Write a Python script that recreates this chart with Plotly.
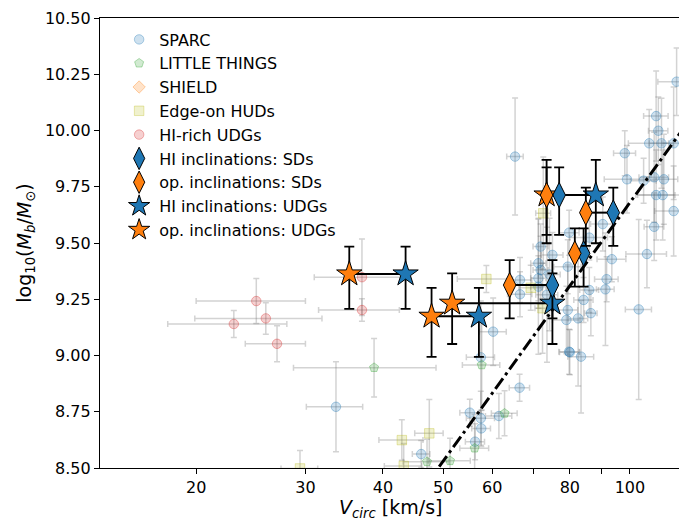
import numpy as np
import plotly.graph_objects as go

# ---------------- data ----------------
# SPARC
sparc_v = [33.6, 46.1, 55.2, 57.5, 57.6, 56.3, 57.5, 61.5, 66.4, 80.0, 83.4, 60.2,
           90.4, 109.4, 117.6, 106.5, 93.5, 103.3, 91.7, 91.3, 79.8, 86.0, 79.4, 84.2,
           86.0, 86.5, 82.5, 79.0, 79.8, 118.9, 110.2, 111.1, 107.4, 112.4, 98.1, 117.6,
           98.9, 105.2, 109.4, 113.4, 110.2, 112.9, 71.8, 75.0, 71.2, 71.8, 71.2, 66.5,
           66.5, 71.2, 79.4, 65.3, 73.5, 74.2]
sparc_m = [8.772, 8.562, 8.746, 8.721, 8.676, 8.617, 8.992, 8.731, 8.857, 9.014, 8.995, 9.106,
           9.584, 9.572, 9.642, 9.451, 9.428, 9.205, 9.339, 9.294, 9.546, 9.524, 9.395, 9.247,
           9.291, 9.188, 9.165, 9.158, 9.017, 10.217, 10.064, 9.999, 9.943, 9.943, 9.899, 9.943,
           9.783, 9.777, 9.792, 9.783, 9.713, 9.713, 9.484, 9.447, 9.410, 9.380, 9.343, 9.336,
           9.272, 9.306, 9.202, 9.884, 9.270, 9.360]
sparc_verr = [3.5, 1.5, 2.0, 3.0, 2.0, 2.0, 3.0, 3.0, 2.5, 3.0, 4.0, 3.0,
              4.0, 4.0, 8.0, 8.0, 5.0, 5.0, 4.0, 3.0, 3.0, 6.0, 4.0, 3.0,
              3.0, 2.0, 3.0, 4.0, 3.0, 8.0, 5.0, 4.0, 8.0, 5.0, 4.0, 5.0,
              8.0, 5.0, 6.0, 6.0, 8.0, 10.0, 2.0, 3.0, 2.0, 2.0, 2.0, 3.0,
              3.0, 2.0, 3.0, 2.0, 3.0, 3.0]
sparc_merr = [0.20, 0.06, 0.06, 0.12, 0.08, 0.08, 0.25, 0.10, 0.06, 0.10, 0.25, 0.15,
              0.12, 0.15, 0.20, 0.15, 0.10, 0.40, 0.10, 0.25, 0.10, 0.10, 0.12, 0.10,
              0.10, 0.10, 0.30, 0.15, 0.10, 0.15, 0.20, 0.15, 0.15, 0.20, 0.10, 0.25,
              0.15, 0.10, 0.20, 0.20, 0.20, 0.20, 0.10, 0.10, 0.20, 0.15, 0.10, 0.10,
              0.10, 0.30, 0.20, 0.26, 0.30, 0.25]

# LITTLE THINGS
lt_v = [38.7, 57.7, 62.8, 56.2, 47.1, 51.3]
lt_m = [8.946, 8.958, 8.743, 8.588, 8.528, 8.532]
lt_verr = [10.0, 4.0, 3.0, 3.0, 4.0, 4.0]
lt_merr = [0.13, 0.20, 0.10, 0.15, 0.10, 0.10]

# SHIELD (all below the plotted mass range)
sh_v = [18.0, 22.0, 26.0, 30.0]
sh_m = [7.6, 7.9, 8.0, 8.2]
sh_verr = [4.0, 4.0, 5.0, 5.0]
sh_merr = [0.1, 0.1, 0.1, 0.1]

# Edge-on HUDs
hud_v = [29.4, 42.9, 47.5, 43.2, 58.7, 69.2, 72.3, 72.5]
hud_m = [8.498, 8.624, 8.654, 8.509, 9.340, 9.301, 9.210, 9.632]
hud_verr = [2.0, 3.5, 2.5, 3.0, 6.0, 3.0, 2.0, 2.0]
hud_merr = [0.08, 0.09, 0.15, 0.10, 0.06, 0.10, 0.20, 0.25]

# HI-rich UDGs
hr_v = [25.0, 25.9, 23.0, 27.0, 37.0, 37.0]
hr_m = [9.242, 9.165, 9.140, 9.052, 9.348, 9.202]
hr_verr = [5.0, 6.0, 5.0, 3.0, 6.0, 5.5]
hr_merr = [0.10, 0.07, 0.06, 0.08, 0.17, 0.05]

# This work: SDs
sd_v_hi = [76.9, 94.0, 84.2, 75.0]
sd_v_op = [73.4, 84.9, 81.5, 64.0]
sd_m = [9.713, 9.635, 9.454, 9.313]
sd_m_up = [0.123, 0.111, 0.111, 0.111]
sd_m_lo = [0.177, 0.148, 0.148, 0.148]

# This work: UDGs
udg_v_hi = [43.5, 57.1, 75.0, 88.1]
udg_v_op = [35.3, 47.9, 51.7, 73.4]
udg_m = [9.362, 9.174, 9.232, 9.713]
udg_m_up = [0.122, 0.127, 0.133, 0.156]
udg_m_lo = [0.155, 0.180, 0.181, 0.214]

# BTFR reference relation: log10 Mb = zero + slope * log10 V
btfr_slope = 3.82
btfr_zero = 2.04
btfr_v = [40.0, 130.0]

x_ticks = [20, 30, 40, 50, 60, 70, 80, 90, 100]
x_ticktext = ["20", "30", "40", "50", "60", "", "80", "", "100"]
y_ticks = [8.50, 8.75, 9.00, 9.25, 9.50, 9.75, 10.00, 10.25, 10.50]

# ---------------- figure ----------------
FONT = "DejaVu Sans"
BLUE = "#1f77b4"
ORANGE = "#ff7f0e"
EB_BG = "rgba(110,110,110,0.30)"

fig = go.Figure()


def bg_trace(name, v, m, verr, merr, rgb, symbol, rank):
    fig.add_trace(go.Scatter(
        x=v, y=m, mode="markers", name=name, legendrank=rank,
        marker=dict(symbol=symbol, size=9.5, color=f"rgba({rgb},0.22)",
                    line=dict(color=f"rgba({rgb},0.35)", width=1)),
        error_x=dict(type="data", array=verr, color=EB_BG, thickness=1.5, width=3),
        error_y=dict(type="data", array=merr, color=EB_BG, thickness=1.5, width=3),
    ))


bg_trace("SPARC", sparc_v, sparc_m, sparc_verr, sparc_merr, "31,119,180", "circle", 1)
bg_trace("LITTLE THINGS", lt_v, lt_m, lt_verr, lt_merr, "44,160,44", "pentagon", 2)
bg_trace("SHIELD", sh_v, sh_m, sh_verr, sh_merr, "255,127,14", "diamond", 3)
bg_trace("Edge-on HUDs", hud_v, hud_m, hud_verr, hud_merr, "188,189,34", "square", 4)
bg_trace("HI-rich UDGs", hr_v, hr_m, hr_verr, hr_merr, "214,39,40", "circle", 5)

# BTFR line
bv = np.array(btfr_v)
fig.add_trace(go.Scatter(
    x=bv, y=btfr_zero + btfr_slope * np.log10(bv), mode="lines", showlegend=False,
    line=dict(color="black", width=3, dash="13px,4px,3px,4px"), hoverinfo="skip"))

# connecting lines op <-> HI
cx, cy = [], []
for vo, vh, m in list(zip(udg_v_op, udg_v_hi, udg_m)) + list(zip(sd_v_op, sd_v_hi, sd_m)):
    cx += [vo, vh, None]
    cy += [m, m, None]
fig.add_trace(go.Scatter(x=cx, y=cy, mode="lines", showlegend=False,
                         line=dict(color="black", width=2), hoverinfo="skip"))


def main_trace(name, v, m, up, lo, color, symbol, size, rank):
    fig.add_trace(go.Scatter(
        x=v, y=m, mode="markers", name=name, legendrank=rank,
        marker=dict(symbol=symbol, size=size, color=color, line=dict(color="black", width=1)),
        error_y=dict(type="data", symmetric=False, array=up, arrayminus=lo,
                     color="black", thickness=1.8, width=5),
    ))


main_trace("HI inclinations: UDGs", udg_v_hi, udg_m, udg_m_up, udg_m_lo, BLUE, "star", 19, 8)
main_trace("op. inclinations: UDGs", udg_v_op, udg_m, udg_m_up, udg_m_lo, ORANGE, "star", 19, 9)
main_trace("HI inclinations: SDs", sd_v_hi, sd_m, sd_m_up, sd_m_lo, BLUE, "diamond-tall", 18, 6)
main_trace("op. inclinations: SDs", sd_v_op, sd_m, sd_m_up, sd_m_lo, ORANGE, "diamond-tall", 18, 7)

# page body adds an 8px offset; margins compensate so the plot area sits at x 100-680, y 18-468
fig.update_layout(
    width=679, height=512,
    margin=dict(l=92, r=7, t=10, b=52, autoexpand=False),
    paper_bgcolor="white", plot_bgcolor="white",
    font=dict(family=FONT, size=16, color="black"),
    showlegend=True,
    legend=dict(x=0.033, y=0.99, xanchor="left", yanchor="top",
                bgcolor="rgba(255,255,255,0)", font=dict(size=16, family=FONT),
                traceorder="normal"),
    annotations=[dict(text="<i>V<sub>circ</sub></i> [km/s]", xref="paper", yref="paper",
                      x=0.5, y=0, xanchor="center", yanchor="middle", yshift=-40,
                      showarrow=False, font=dict(size=19, family=FONT))],
)
fig.update_xaxes(
    type="log", range=[np.log10(14.0), np.log10(120.4)], automargin=False,
    tickvals=x_ticks, ticktext=x_ticktext,
    ticks="outside", ticklen=5, tickwidth=1, tickcolor="black",
    showline=True, linecolor="black", linewidth=1.2, mirror=True,
    showgrid=False, zeroline=False, tickfont=dict(size=16),
)
fig.update_yaxes(
    range=[8.5, 10.5], tickvals=y_ticks, tickformat=".2f", automargin=False,
    ticks="outside", ticklen=5, tickwidth=1, tickcolor="black",
    showline=True, linecolor="black", linewidth=1.2, mirror=True,
    showgrid=False, zeroline=False, tickfont=dict(size=16),
    title=dict(text="log<sub>10</sub>(<i>M<sub>b</sub></i>/<i>M</i><sub>⊙</sub>)",
               font=dict(size=19), standoff=8),
)

fig.write_html("out.html")
